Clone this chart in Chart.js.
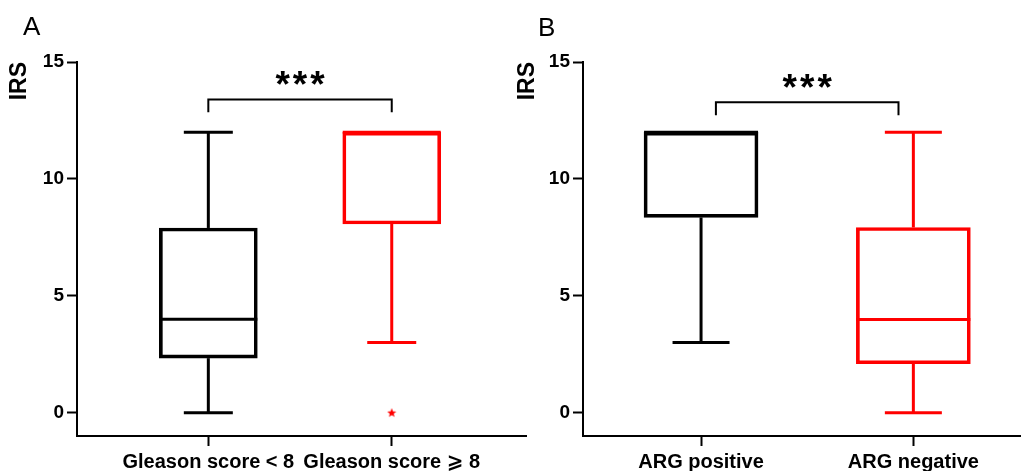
<!DOCTYPE html>
<html lang="en">
<head>
<meta charset="UTF-8" />
<title>IRS box plots</title>
<script src="https://cdn.jsdelivr.net/npm/chart.js@4.4.0/dist/chart.umd.min.js"></script>
<style>
  * { box-sizing: border-box; }
  html, body { margin: 0; padding: 0; background: #fff; }
  body { width: 1021px; height: 471px; position: relative; overflow: hidden;
         font-family: "Liberation Sans", Arial, "DejaVu Sans", sans-serif; }
  .panel { position: absolute; top: 0; height: 471px; }
  #panelA { left: 0; width: 530px; }
  #panelB { left: 500px; width: 521px; }
  .tag { position: absolute; font-size: 26px; line-height: 26px; color: #000; }
  #tagA { left: 23px; top: 13px; }
  #tagB { left: 538px; top: 14px; }
</style>
</head>
<body>
<div class="panel" id="panelA"><canvas id="chartA"></canvas></div>
<div class="panel" id="panelB"><canvas id="chartB"></canvas></div>
<div class="tag" id="tagA">A</div>
<div class="tag" id="tagB">B</div>

<script>
  // ---- values ----
  const labelsA   = ["Gleason score < 8", "Gleason score \u2A7E 8"];
  const minA      = [0, 3];
  const q1A       = [2.33, 8.07];
  const medianA   = [4, 12];
  const q3A       = [7.9, 12];
  const maxA      = [12, 12];
  const outliersA = [[], [0]];

  const labelsB   = ["ARG positive", "ARG negative"];
  const minB      = [3, 0];
  const q1B       = [8.35, 2.09];
  const medianB   = [12, 3.98];
  const q3B       = [12, 7.92];
  const maxB      = [12, 12];
  const outliersB = [[], []];

  const yTicks    = [0, 5, 10, 15];
  const boxColors = ["#000000", "#ff0000"];

  // significance brackets (group positions, y values)
  const sigA = { from: 0, to: 1, y: 13.4, drop: 12.85, text: "***" };
  const sigB = { from: 0.07, to: 0.93, y: 13.28, drop: 12.72, text: "***" };

  const FONT = '"Liberation Sans", Arial, "DejaVu Sans", sans-serif';

  // small filled star used for outliers
  function starImage(color) {
    const c = document.createElement("canvas");
    c.width = 10; c.height = 10;
    const g = c.getContext("2d");
    g.fillStyle = color;
    g.beginPath();
    for (let k = 0; k < 10; k++) {
      const r = k % 2 === 0 ? 4.8 : 2.1;
      const a = -Math.PI / 2 + k * Math.PI / 5;
      g.lineTo(5 + r * Math.cos(a), 5.4 + r * Math.sin(a));
    }
    g.closePath();
    g.fill();
    return c;
  }

  // whiskers, caps, medians and the significance bracket
  const boxPlotPlugin = {
    id: "boxplot",
    afterDatasetsDraw(chart, args, opts) {
      const { ctx } = chart;
      const x = chart.scales.x, y = chart.scales.y;
      const s = opts.stats;
      const meta = chart.getDatasetMeta(0);
      const line = (x1, y1, x2, y2) => {
        ctx.beginPath(); ctx.moveTo(x1, y1); ctx.lineTo(x2, y2); ctx.stroke();
      };
      ctx.save();
      ctx.lineCap = "butt";
      ctx.lineWidth = 3;
      meta.data.forEach((bar, i) => {
        const cx = bar.x, half = bar.width / 2, cap = half * 0.5;
        ctx.strokeStyle = boxColors[i];
        const yMax = y.getPixelForValue(s.max[i]);
        const yMin = y.getPixelForValue(s.min[i]);
        const yQ1 = y.getPixelForValue(s.q1[i]);
        const yQ3 = y.getPixelForValue(s.q3[i]);
        if (s.max[i] > s.q3[i]) {
          line(cx, yQ3, cx, yMax);
          line(cx - cap, yMax, cx + cap, yMax);
        }
        if (s.min[i] < s.q1[i]) {
          line(cx, yQ1, cx, yMin);
          line(cx - cap, yMin, cx + cap, yMin);
        }
        const yMed = y.getPixelForValue(s.median[i]);
        line(cx - half, yMed, cx + half, yMed);
      });

      // bracket
      const b = opts.sig;
      const bx1 = x.getPixelForValue(b.from), bx2 = x.getPixelForValue(b.to);
      const by = y.getPixelForValue(b.y), bd = y.getPixelForValue(b.drop);
      ctx.strokeStyle = "#000";
      ctx.lineWidth = 2;
      ctx.beginPath();
      ctx.moveTo(bx1, bd); ctx.lineTo(bx1, by); ctx.lineTo(bx2, by); ctx.lineTo(bx2, bd);
      ctx.stroke();
      ctx.fillStyle = "#000";
      ctx.font = "bold 37px " + FONT;
      ctx.letterSpacing = "3px";
      ctx.textAlign = "center";
      ctx.textBaseline = "alphabetic";
      ctx.fillText(b.text, (bx1 + bx2) / 2 + 1.5, by - 2);
      ctx.restore();
    }
  };

  function makeChart(id, labels, stats, outliers, sig, o) {
    const boxes = labels.map((_, i) => ({ x: i, y: [stats.q1[i], stats.q3[i]] }));
    const pts = [];
    outliers.forEach((arr, i) => arr.forEach(v => pts.push({ x: i, y: v, c: boxColors[i] })));

    return new Chart(document.getElementById(id), {
      type: "bar",
      data: {
        datasets: [
          {
            type: "bar",
            data: boxes,
            backgroundColor: "rgba(0,0,0,0)",
            borderColor: boxColors,
            borderWidth: 3,
            borderSkipped: false,
            barThickness: o.barWidth
          },
          {
            // outliers; tiny radius so the layout keeps no extra overflow padding
            type: "scatter",
            data: pts,
            pointStyle: pts.map(p => starImage(p.c)),
            pointRadius: 0.5,
            pointBorderWidth: 0,
            borderWidth: 0
          }
        ]
      },
      options: {
        responsive: true,
        maintainAspectRatio: false,
        animation: false,
        layout: { padding: { top: 62, left: 0, right: 0, bottom: 0 } },
        plugins: {
          legend: { display: false },
          tooltip: { enabled: false },
          boxplot: { stats: stats, sig: sig }
        },
        scales: {
          x: {
            type: "linear",
            min: o.xMin,
            max: o.xMax,
            offset: false,
            afterFit: s => { s.height = 35; s.paddingLeft = 0; s.paddingRight = 0; },
            afterBuildTicks: s => { s.ticks = labels.map((_, i) => ({ value: i })); },
            border: { display: true, color: "#000", width: 2 },
            grid: { display: true, offset: false, drawOnChartArea: false, drawTicks: true,
                    tickLength: 10, tickWidth: 2, tickColor: "#000" },
            ticks: {
              autoSkip: false, maxRotation: 0, minRotation: 0, padding: 4,
              color: "#000", font: { family: FONT, size: 20, weight: "bold" },
              callback: (v, i) => labels[i]
            }
          },
          y: {
            min: -1,
            max: 15,
            afterFit: s => { s.width = o.yWidth; s.paddingTop = 0; s.paddingBottom = 0; },
            afterBuildTicks: s => { s.ticks = yTicks.map(v => ({ value: v })); },
            border: { display: true, color: "#000", width: 2 },
            grid: { display: true, drawOnChartArea: false, drawTicks: true,
                    tickLength: 10, tickWidth: 2, tickColor: "#000" },
            ticks: { padding: 3, color: "#000", font: { family: FONT, size: 19, weight: "bold" } },
            title: {
              display: true, text: "IRS", align: "end", color: "#000",
              font: { family: FONT, size: 23, weight: "bold" },
              padding: { top: o.titlePad, bottom: 0 }
            }
          }
        }
      },
      plugins: [boxPlotPlugin]
    });
  }

  makeChart("chartA", labelsA,
    { min: minA, q1: q1A, median: medianA, q3: q3A, max: maxA }, outliersA, sigA,
    { xMin: -0.716, xMax: 1.732, yWidth: 77, barWidth: 98, titlePad: 6 });

  makeChart("chartB", labelsB,
    { min: minB, q1: q1B, median: medianB, q3: q3B, max: maxB }, outliersB, sigB,
    { xMin: -0.556, xMax: 1.507, yWidth: 83, barWidth: 114, titlePad: 14 });
</script>
</body>
</html>
